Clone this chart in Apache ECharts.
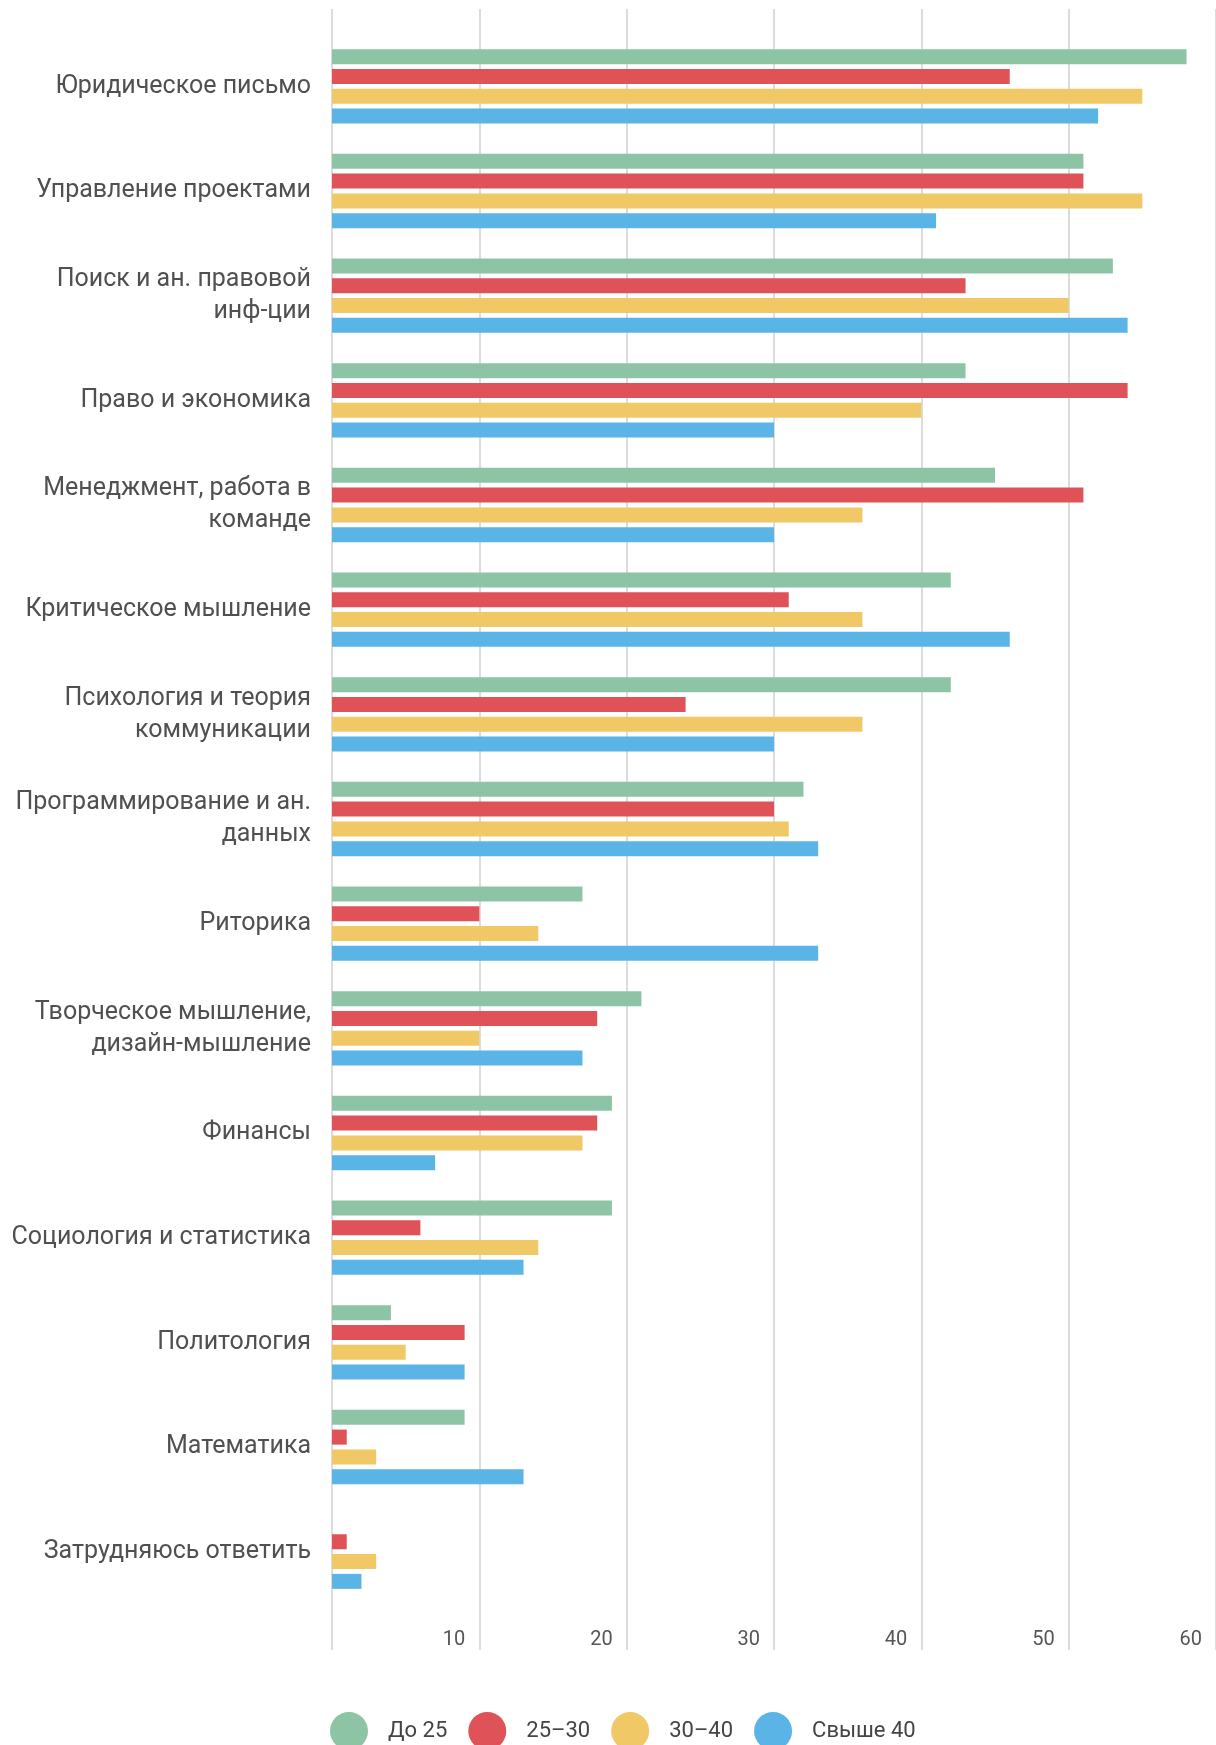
<!DOCTYPE html>
<html>
<head>
<meta charset="utf-8">
<script src="https://cdn.jsdelivr.net/npm/echarts@6/dist/echarts.min.js"></script>
<style>
  html, body { margin: 0; padding: 0; background: #ffffff; }
  #chart { width: 1216px; height: 1745px; }
</style>
</head>
<body>
<div id="chart"></div>
<script>
const categories = [
  'Юридическое письмо',
  'Управление проектами',
  'Поиск и ан. правовой\nинф-ции',
  'Право и экономика',
  'Менеджмент, работа в\nкоманде',
  'Критическое мышление',
  'Психология и теория\nкоммуникации',
  'Программирование и ан.\nданных',
  'Риторика',
  'Творческое мышление,\nдизайн-мышление',
  'Финансы',
  'Социология и статистика',
  'Политология',
  'Математика',
  'Затрудняюсь ответить'
];
const seriesNames = ['До 25', '25–30', '30–40', 'Свыше 40'];
const valsUnder25 = [58, 51, 53, 43, 45, 42, 42, 32, 17, 21, 19, 19, 4, 9, 0];
const vals25to30  = [46, 51, 43, 54, 51, 31, 24, 30, 10, 18, 18, 6, 9, 1, 1];
const vals30to40  = [55, 55, 50, 40, 36, 36, 36, 31, 14, 10, 17, 14, 5, 3, 3];
const valsOver40  = [52, 41, 54, 30, 30, 46, 30, 33, 33, 17, 7, 13, 9, 13, 2];
const axisMin = 0, axisMax = 60, axisStep = 10;

const colors = ['#8DC4A5', '#DE5258', '#F0C866', '#5AB4E5'];
const seriesData = [valsUnder25, vals25to30, vals30to40, valsOver40];

const chart = echarts.init(document.getElementById('chart'), null, { renderer: 'canvas' });

const FONT = 'Roboto';

chart.setOption({
  animation: false,
  backgroundColor: '#ffffff',
  textStyle: { fontFamily: FONT },
  legend: {
    left: 325,
    top: 1707,
    icon: 'circle',
    itemWidth: 38,
    itemHeight: 38,
    itemGap: 21,
    selectedMode: false,
    data: seriesNames,
    textStyle: {
      fontFamily: FONT,
      fontSize: 22,
      color: '#444444',
      padding: [0, 0, 0, 15]
    }
  },
  grid: [
    { left: 332, width: 887, top: 34, height: 1570, containLabel: false },
    { left: 332, width: 887, top: 9, height: 1641, containLabel: false }
  ],
  xAxis: [
    {
      gridIndex: 0, type: 'value', min: axisMin, max: axisMax, interval: axisStep,
      show: false
    },
    {
      gridIndex: 1, type: 'value', min: axisMin, max: axisMax, interval: axisStep,
      axisLine: { show: false },
      axisTick: { show: false },
      splitLine: { show: true, lineStyle: { color: '#dcdcdc', width: 2 } },
      axisLabel: {
        show: true,
        showMinLabel: false,
        showMaxLabel: true,
        align: 'right',
        verticalAlign: 'middle',
        margin: -10,
        padding: [0, 14, 0, 0],
        fontFamily: FONT,
        fontSize: 20,
        color: '#555555'
      }
    }
  ],
  yAxis: [
    {
      gridIndex: 0, type: 'category', inverse: true, data: categories,
      axisLine: { show: false },
      axisTick: { show: false },
      splitLine: { show: false },
      axisLabel: {
        margin: 21,
        fontFamily: FONT,
        fontSize: 25,
        lineHeight: 32,
        color: '#505050',
        align: 'right',
        padding: [0, 0, 4, 0]
      }
    },
    {
      gridIndex: 1, type: 'value', min: 0, max: 1, show: false
    }
  ],
  series: seriesNames.map((name, i) => ({
    name: name,
    type: 'bar',
    xAxisIndex: 0,
    yAxisIndex: 0,
    data: seriesData[i],
    barWidth: 15,
    barGap: '32%',
    itemStyle: { color: colors[i] },
    z: 3
  })),
  color: colors
});
</script>
</body>
</html>
